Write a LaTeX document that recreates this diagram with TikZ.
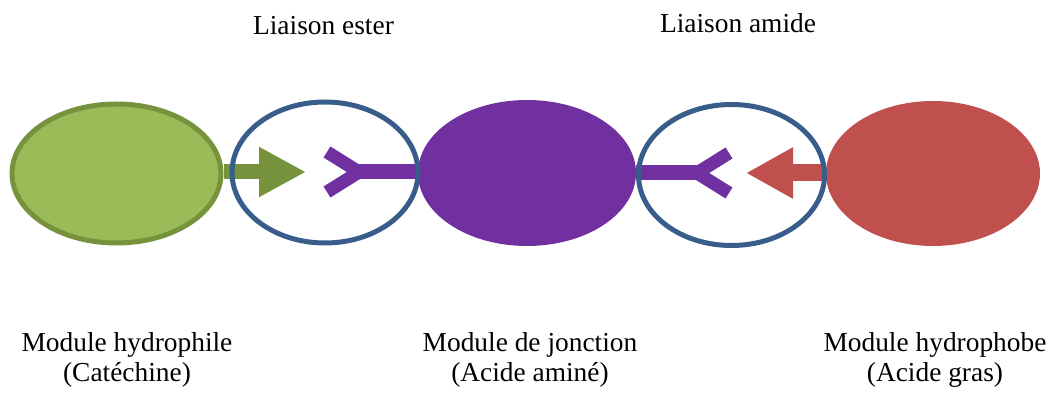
\documentclass[tikz,border=0pt]{standalone}
\usepackage{fontspec}
\setmainfont{Liberation Serif}
\usepackage{xcolor}
\usetikzlibrary{shapes.geometric,arrows.meta}

\definecolor{vertfond}{HTML}{9BBB59}
\definecolor{vertbord}{HTML}{76923C}
\definecolor{bleulien}{HTML}{385D8A}
\definecolor{violet}{HTML}{7030A0}
\definecolor{rouge}{HTML}{C0504D}

\tikzset{
  module/.style={ellipse, inner sep=0pt, minimum width=#1},
  liaison/.style={ellipse, draw=bleulien, line width=2.5pt, inner sep=0pt, minimum width=93pt, minimum height=70.5pt},
  legende/.style={align=center, anchor=base, font=\fontsize{13.7}{15}\selectfont},
  bras/.style={draw=violet, line width=6.5pt},
  tige/.style={draw=violet, line width=7.5pt}
}

\begin{document}
\begin{tikzpicture}[x=0.5pt, y=-0.5pt]
    \useasboundingbox (0,0) rectangle (1062,394);

    % modules
    \node (hydrophile) [module=104.5pt, minimum height=69.5pt, fill=vertfond, draw=vertbord, line width=2.5pt] at (116.5,173.5) {};
    \node (jonction) [module=109pt, minimum height=73pt, fill=violet] at (527,173) {};
    \node (hydrophobe) [module=107pt, minimum height=72.5pt, fill=rouge] at (933,173.5) {};

    % pointes et fourches
    \coordinate (vpointe) at (306,172);
    \coordinate (rpointe) at (746,173);
    \coordinate (fourche1) at (359,172);
    \coordinate (fourche2) at (697,173);

    \draw[vertbord, line width=7.5pt, -{Triangle[length=23.5pt, width=23.5pt]}] (hydrophile.east |- vpointe) -- (vpointe);
    \draw[rouge, line width=8.5pt, -{Triangle[length=23.5pt, width=24pt]}] (hydrophobe.west |- rpointe) -- (rpointe);

    \draw[tige] (jonction.west |- fourche1) -- (fourche1);
    \draw[bras] (fourche1) -- ++(-32,-20);
    \draw[bras] (fourche1) -- ++(-32,20);
    \draw[tige] (jonction.east |- fourche2) -- (fourche2);
    \draw[bras] (fourche2) -- ++(32,-20);
    \draw[bras] (fourche2) -- ++(32,20);

    % liaisons
    \node (ester) [liaison] at (325,172.5) {};
    \node (amide) [liaison] at (731.5,175) {};

    % textes
    \node [legende] at (323.5,35) {Liaison ester};
    \node [legende] at (738,33) {Liaison amide};
    \node [legende] at (127,382) {Module hydrophile\\(Catéchine)};
    \node [legende] at (530,382) {Module de jonction\\(Acide aminé)};
    \node [legende] at (935,382) {Module hydrophobe\\(Acide gras)};
\end{tikzpicture}
\end{document}
